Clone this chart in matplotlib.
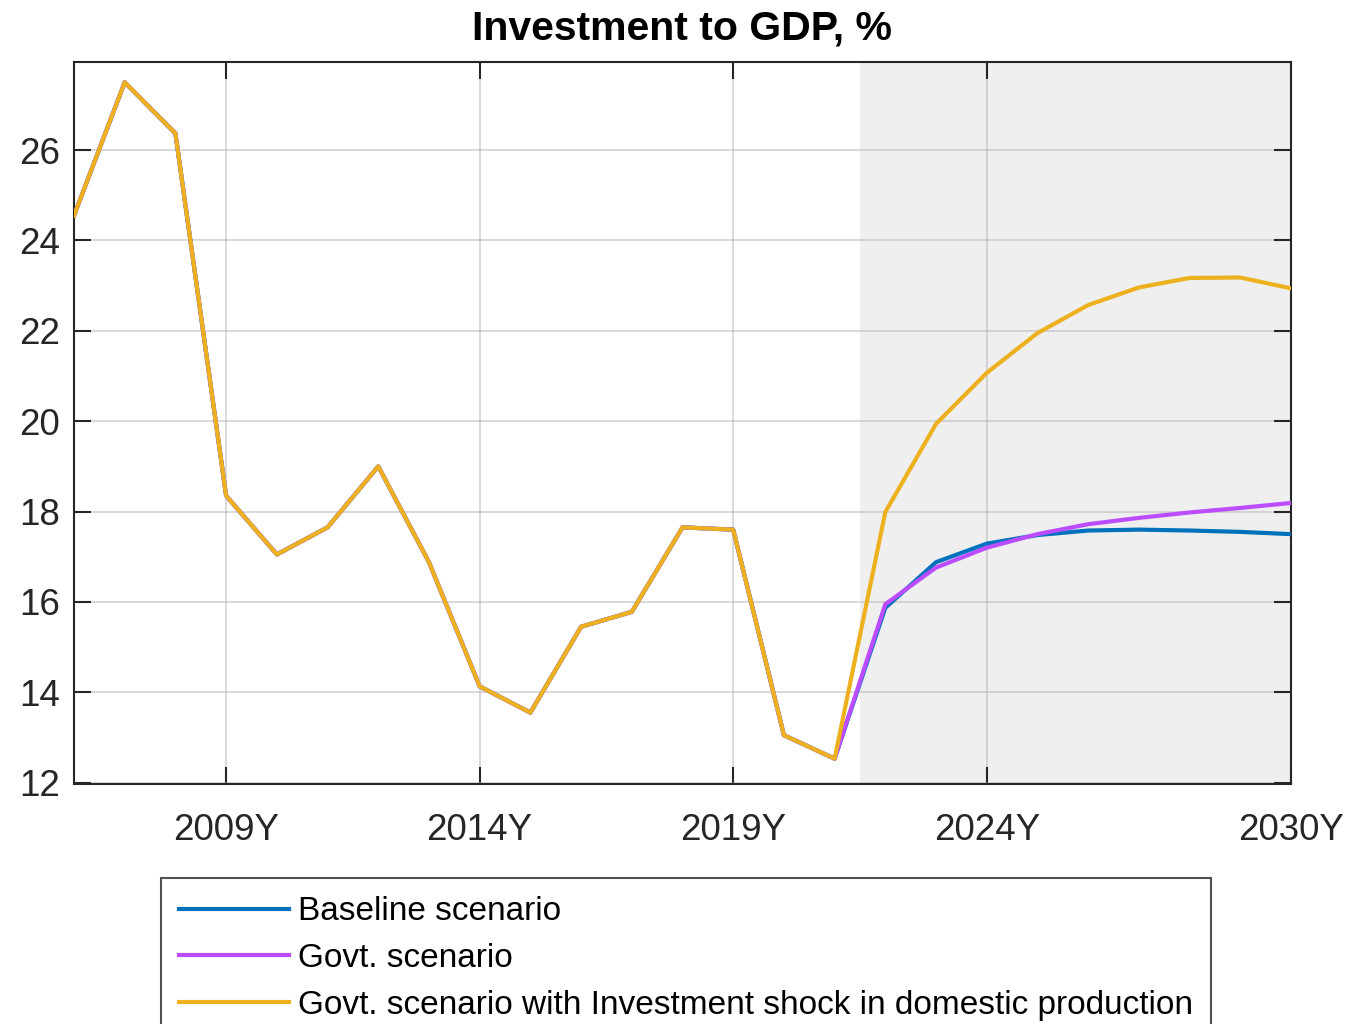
import matplotlib.pyplot as plt

plt.rcParams['font.family'] = ['Liberation Sans', 'DejaVu Sans']

years = list(range(2006, 2031))
history = [24.55, 27.5, 26.37, 18.35, 17.05, 17.65, 19.0, 16.88, 14.13, 13.55,
           15.45, 15.78, 17.65, 17.6, 13.05, 12.53]
baseline_fc = [15.87, 16.88, 17.29, 17.48, 17.58, 17.6, 17.58, 17.55, 17.5]
govt_fc = [15.95, 16.76, 17.2, 17.5, 17.72, 17.86, 17.98, 18.08, 18.19]
shock_fc = [17.99, 19.94, 21.07, 21.95, 22.57, 22.96, 23.17, 23.18, 22.94]

baseline = history + baseline_fc
govt = history + govt_fc
shock = history + shock_fc

labels = ['Baseline scenario', 'Govt. scenario',
          'Govt. scenario with Investment shock in domestic production']
colors = ['#0072BD', '#BB4CFF', '#EDB120']
xticks = [2009, 2014, 2019, 2024, 2030]

fig = plt.figure(figsize=(13.47, 10.24), dpi=100)
ax = fig.add_axes([74 / 1347, 1 - 784 / 1024, (1291 - 74) / 1347, (784 - 62) / 1024])

ax.axvspan(2021.5, 2030, color='#efefef', zorder=0, lw=0)
for series, lab, c in zip([baseline, govt, shock], labels, colors):
    ax.plot(years, series, color=c, lw=3.0, label=lab, zorder=3)

ax.set_xlim(2006, 2030)
ax.set_ylim(11.97, 27.95)
ax.set_xticks(xticks)
ax.set_xticklabels([f'{y}Y' for y in xticks])
ax.set_yticks(range(12, 27, 2))
ax.set_axisbelow(True)
ax.grid(True, color='#b0b0b0', alpha=0.55, lw=1.2)
ax.tick_params(axis='both', direction='in', length=12, width=1.5, labelsize=26.5,
               colors='#262626', top=True, right=True)
ax.tick_params(axis='x', pad=21)
ax.tick_params(axis='y', pad=10)
for s in ax.spines.values():
    s.set_linewidth(1.5)
    s.set_color('#262626')

ax.set_title('Investment to GDP, %', fontsize=29.5, fontweight='bold', pad=16)

leg = fig.legend(loc='upper left', bbox_to_anchor=(161 / 1347, 1 - 878 / 1024),
                 fontsize=24.0, frameon=True, fancybox=False, edgecolor='#262626',
                 handlelength=3.3, handletextpad=0.25, labelspacing=0.47,
                 borderpad=0.55, borderaxespad=0)
leg.get_frame().set_linewidth(1.5)

fig.savefig('out.png', dpi=100)
